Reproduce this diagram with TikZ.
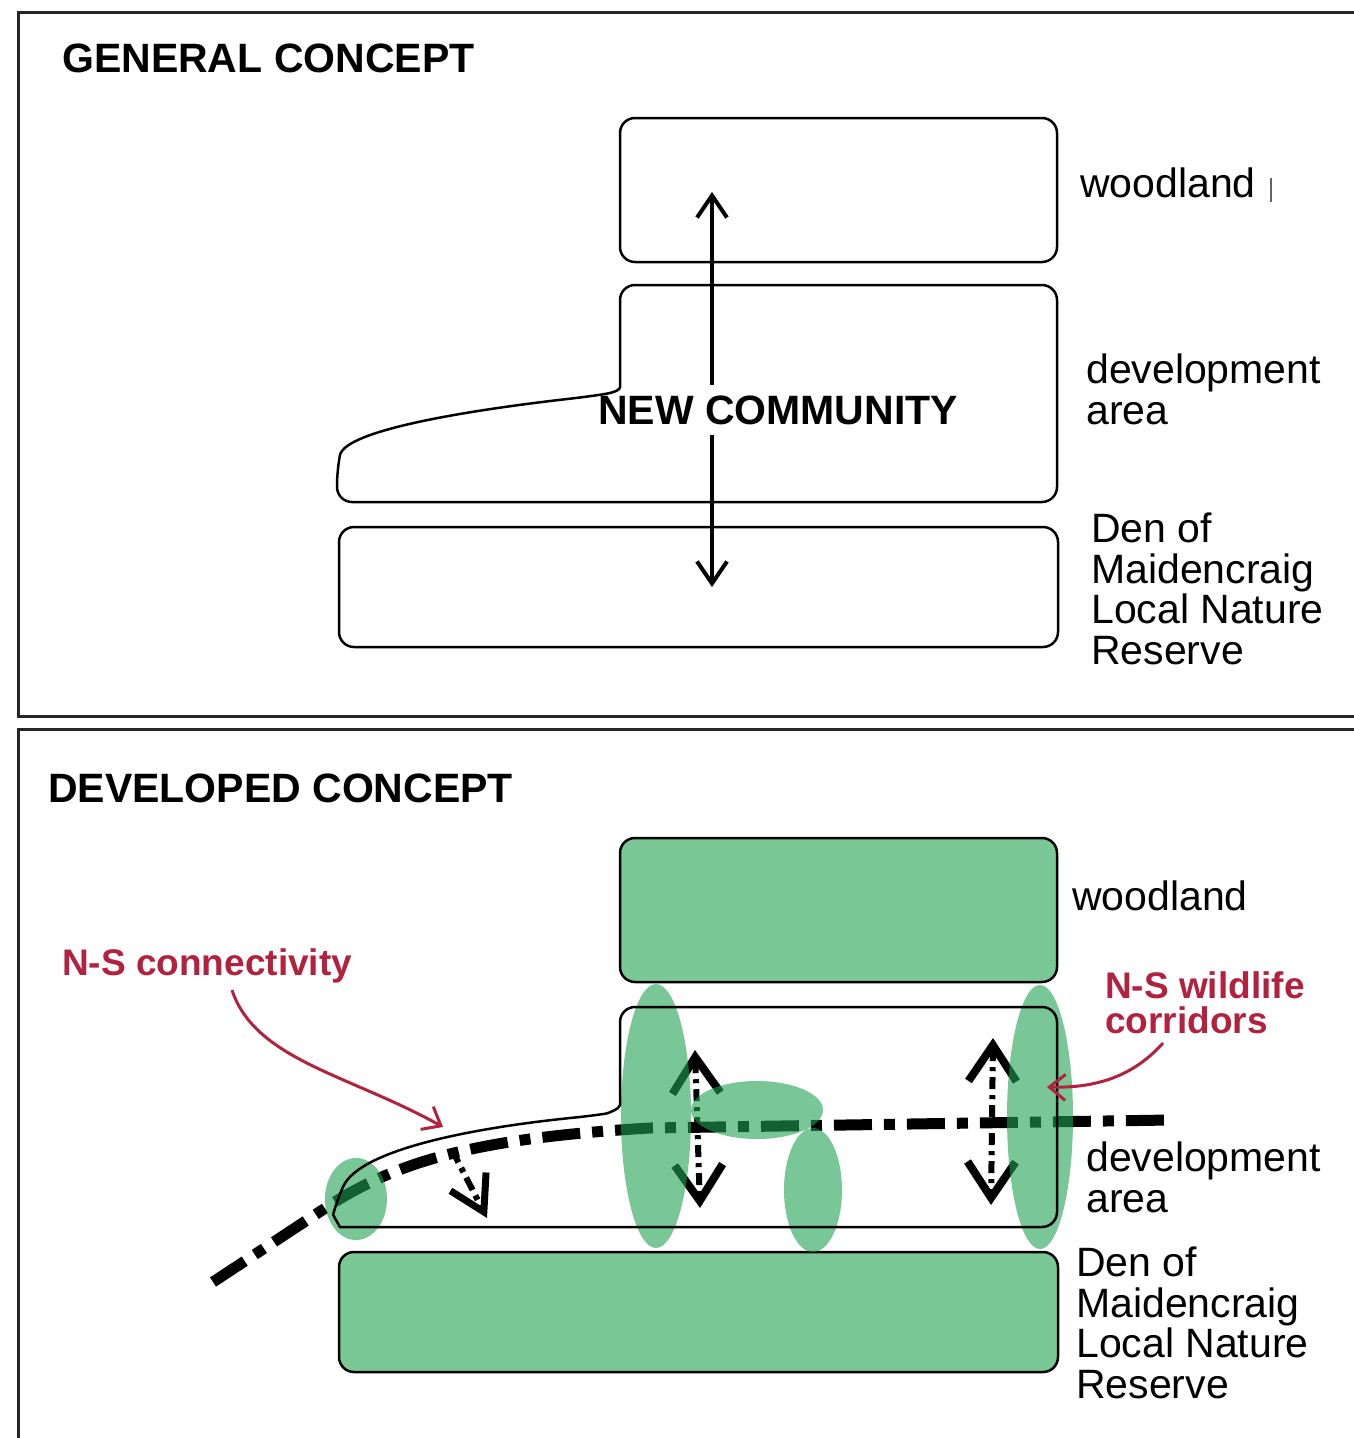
\documentclass[tikz,border=0pt]{standalone}
\usepackage{fontspec}
\setmainfont{Liberation Sans}
\usetikzlibrary{arrows.meta}

\definecolor{wildgreen}{RGB}{122,200,150}
\definecolor{wildbase}{RGB}{33,163,80}
\definecolor{notered}{RGB}{178,34,62}

\begin{document}
\begin{tikzpicture}[x=1pt,y=-1pt,
	panel/.style={line width=3pt,draw=black!85},
	zone/.style={draw,line width=2.5pt,rounded corners=15pt},
	greenzone/.style={zone,fill=wildgreen},
	heading/.style={font=\bfseries\fontsize{41}{48}\selectfont,anchor=base west,inner sep=0pt},
	sidetext/.style={font=\fontsize{41}{40.5}\selectfont,anchor=base west,align=left,inner sep=0pt},
	redtext/.style={font=\bfseries\fontsize{37}{35}\selectfont,text=notered,anchor=base west,align=left,inner sep=0pt},
	link/.style={line width=4pt,-{Straight Barb[length=22pt,width=30pt]}},
	corridor/.style={line width=6pt,dash pattern=on 12pt off 6pt on 4pt off 6pt,
		{Straight Barb[length=36pt,width=48pt,line width=8pt]}-{Straight Barb[length=36pt,width=48pt,line width=8pt]}},
	spur/.style={line width=6pt,dash pattern=on 14pt off 6pt on 5pt off 6pt,
		-{Straight Barb[length=34pt,width=40pt,line width=7pt]}},
	route/.style={line width=11pt,dash pattern=on 38pt off 12pt on 11pt off 12pt},
	pointer/.style={draw=notered,line width=3pt,-{Straight Barb[length=16pt,width=26pt]}}]

	\useasboundingbox[fill=white] (0,0) rectangle (1354,1438);

	% general concept
	\draw[panel] (1354,12) -- (18,12) -- (18,716) -- (1354,716);
	\node[heading] (ttlgeneral) at (62,72) {GENERAL CONCEPT};

	\draw[zone] (620,118) rectangle (1057,262);
	\draw[zone] (700,502) -- (1057,502) -- (1057,285) -- (620,285) -- (620,372)
		.. controls (620,392) and (605,394) .. (585,397)
		.. controls (470,410) and (345,430) .. (337,470) -- (337,502) -- cycle;
	\draw[zone] (339,527) rectangle (1058,647);

	\node[inner xsep=4pt,inner ysep=10pt,font=\bfseries\fontsize{41}{48}\selectfont] (newcomm) at (778,410) {NEW COMMUNITY};
	\coordinate (north) at (712,192);
	\coordinate (south) at (712,587);
	\draw[link] (newcomm.north -| north) -- (north);
	\draw[link] (newcomm.south -| south) -- (south);

	\node[sidetext] (woodtop) at (1080,197) {woodland};
	\draw[black!60,line width=1.5pt] (1271,178) -- (1271,202);
	\node[sidetext] (devtop) at (1086,424) {development\\area};
	\node[sidetext] (dentop) at (1091,664) {Den of\\Maidencraig\\Local Nature\\Reserve};

	% developed concept
	\draw[panel] (1354,729) -- (18,729) -- (18,1438);
	\node[heading] (ttldeveloped) at (48,802) {DEVELOPED CONCEPT};

	\draw[greenzone] (620,838) rectangle (1057,982);
	\draw[greenzone] (339,1252) rectangle (1058,1372);

	\coordinate (westend) at (213,1282);
	\coordinate (eastend) at (1170,1120);
	\draw[route] (westend) -- (330,1205) .. controls (400,1160) and (480,1138) .. (650,1128) -- (eastend);

	\coordinate (spurtop) at (452,1150);
	\coordinate (spurtip) at (487,1218);
	\draw[spur] (spurtop) -- (spurtip);
	\coordinate (leftN) at (695,1050);
	\coordinate (leftS) at (700,1208);
	\draw[corridor] (leftN) -- (leftS);
	\coordinate (rightN) at (993,1038);
	\coordinate (rightS) at (991,1205);
	\draw[corridor] (rightN) -- (rightS);

	% green patches
	\fill[wildbase,fill opacity=0.6]
		(656,1116) ellipse [x radius=35,y radius=132]
		(757,1110) ellipse [x radius=66,y radius=29]
		(813,1190) ellipse [x radius=29,y radius=62]
		(1040,1117) ellipse [x radius=33,y radius=132]
		(356,1199) ellipse [x radius=31,y radius=41];

	\draw[zone] (700,1227) -- (1057,1227) -- (1057,1007) -- (620,1007) -- (620,1090)
		.. controls (620,1108) and (610,1113) .. (590,1116)
		.. controls (470,1128) and (360,1150) .. (337,1200)
		.. controls (333,1215) and (340,1227) .. (355,1227) -- cycle;

	\node[sidetext] (woodbot) at (1072,910) {woodland};
	\node[sidetext] (devbot) at (1086,1212) {development\\area};
	\node[sidetext] (denbot) at (1076,1398) {Den of\\Maidencraig\\Local Nature\\Reserve};

	\node[redtext] (connect) at (62,975) {N-S connectivity};
	\node[redtext] (corridors) at (1105,1033) {N-S wildlife\\corridors};
	\coordinate (connecttip) at (443,1127);
	\coordinate (corridortip) at (1047,1087);
	\draw[pointer] (232,990) .. controls (255,1060) and (350,1075) .. (connecttip);
	\draw[pointer] (1163,1043) .. controls (1130,1080) and (1090,1088) .. (corridortip);
\end{tikzpicture}
\end{document}
